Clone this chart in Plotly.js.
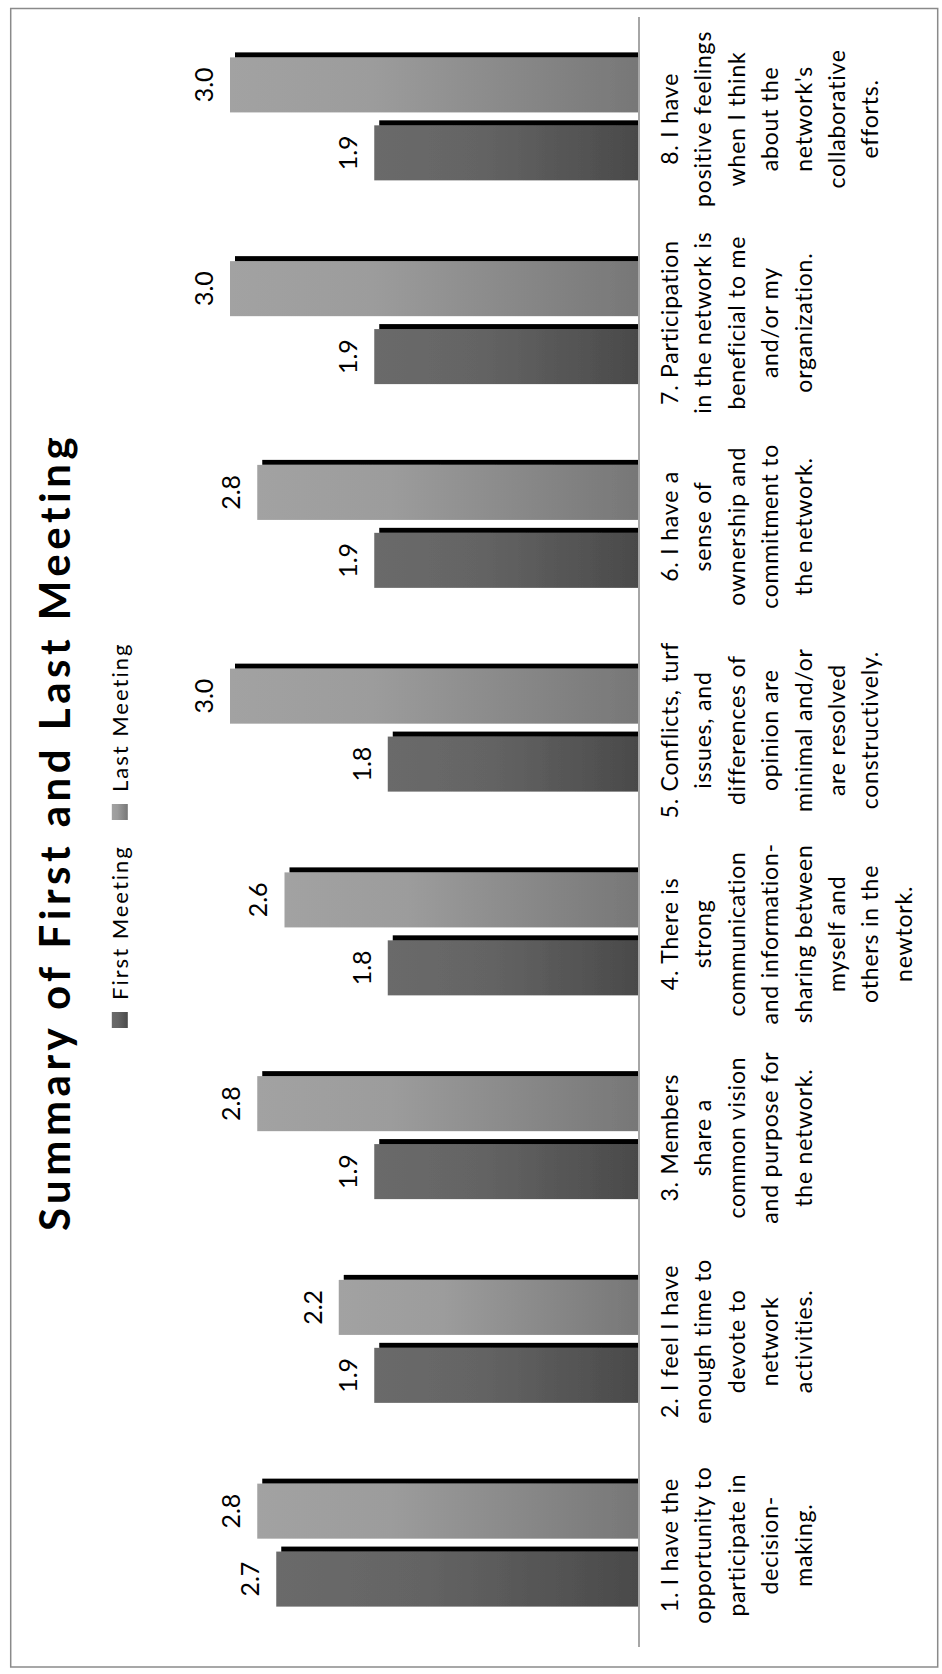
<!DOCTYPE html>
<html>
<head>
<meta charset="utf-8">
<script src="https://cdn.plot.ly/plotly-3.0.1.min.js"></script>
<style>
html,body{margin:0;padding:0;width:942px;height:1674px;overflow:hidden;background:#fff;}
#wrap{position:absolute;left:0;top:0;width:1674px;height:942px;transform-origin:0 0;transform:translate(0px,1674px) rotate(-90deg);}
#chart{width:1674px;height:942px;}
</style>
</head>
<body>
<div id="wrap"><div id="chart"></div></div>
<script>
// ---- data ----
const categories = [
  "1. I have the<br>opportunity to<br>participate in<br>decision-<br>making.",
  "2. I feel I have<br>enough time to<br>devote to<br>network<br>activities.",
  "3. Members<br>share a<br>common vision<br>and purpose for<br>the network.",
  "4. There is<br>strong<br>communication<br>and information-<br>sharing between<br>myself and<br>others in the<br>newtork.",
  "5. Conflicts, turf<br>issues, and<br>differences of<br>opinion are<br>minimal and/or<br>are resolved<br>constructively.",
  "6. I have a<br>sense of<br>ownership and<br>commitment to<br>the network.",
  "7. Participation<br>in the network is<br>beneficial to me<br>and/or my<br>organization.",
  "8. I have<br>positive feelings<br>when I think<br>about the<br>network's<br>collaborative<br>efforts."
];
const firstMeeting = [2.66, 1.94, 1.94, 1.84, 1.84, 1.94, 1.94, 1.94];
const lastMeeting  = [2.80, 2.20, 2.80, 2.60, 3.00, 2.80, 3.00, 3.00];
const seriesNames = ["First Meeting", "Last Meeting"];
const chartTitle = "Summary of First and Last Meeting";

// ---- geometry (unrotated chart, later rotated -90deg by CSS) ----
const W = 1674, H = 942, L = 27, R = 17, T = 162, B = 304;
const plotW = W - L - R, plotH = H - T - B;
const px2paperX = x => (x - L) / plotW;
const px2paperY = y => (H - B - y) / plotH;

const data = [
  {type:'bar', name:seriesNames[0], x:categories, y:firstMeeting,
   marker:{color:'#5a5a5a', line:{width:0}},
   texttemplate:'%{y:.1f}', textposition:'outside', constraintext:'none', cliponaxis:false,
   textfont:{family:'Lato, sans-serif', size:25, color:'#000'}, hoverinfo:'skip'},
  {type:'bar', name:seriesNames[1], x:categories, y:lastMeeting,
   marker:{color:'#8e8e8e', line:{width:0}},
   texttemplate:'%{y:.1f}', textposition:'outside', constraintext:'none', cliponaxis:false,
   textfont:{family:'Lato, sans-serif', size:25, color:'#000'}, hoverinfo:'skip'}
];

const layout = {
  width:W, height:H,
  margin:{l:L, r:R, t:T, b:B, pad:0},
  paper_bgcolor:'#ffffff', plot_bgcolor:'#ffffff',
  font:{family:'Lato, sans-serif', color:'#000'},
  title:{text:'<b>'+chartTitle+'</b>', font:{family:'Lato, sans-serif', size:42, color:'#000'},
         x:0.5, xref:'paper', xanchor:'center', y:1-55/H, yref:'container', yanchor:'middle'},
  barmode:'group', bargap:0.333, bargroupgap:0.19,
  showlegend:true,
  legend:{orientation:'h', x:0.5, xanchor:'center', y:px2paperY(120), yanchor:'middle',
          entrywidth:163, entrywidthmode:'pixels',
          font:{family:'Lato, sans-serif', size:22, color:'#000'}, traceorder:'normal',
          bgcolor:'rgba(0,0,0,0)', borderwidth:0},
  xaxis:{type:'category', showline:true, linecolor:'#a6a6a6', linewidth:1.5, ticks:'',
         tickfont:{family:'Lato, sans-serif', size:23, color:'#000'}, tickangle:0,
         ticklabelstandoff:11, showgrid:false, zeroline:false, fixedrange:true},
  yaxis:{range:[0,3.5], visible:false, showgrid:false, zeroline:false, fixedrange:true},
  shapes:[{type:'rect', xref:'paper', yref:'paper',
           x0:px2paperX(7), x1:px2paperX(1665.5), y0:px2paperY(937.7), y1:px2paperY(10.7),
           line:{color:'#8a8a8a', width:1.5}, fillcolor:'rgba(0,0,0,0)', layer:'below'}]
};

Plotly.newPlot('chart', data, layout, {staticPlot:true, displayModeBar:false}).then(gd => {
  const NS = 'http://www.w3.org/2000/svg';
  const svg = gd.querySelector('svg.main-svg');
  let defs = svg.querySelector('defs');
  if (!defs) { defs = document.createElementNS(NS,'defs'); svg.insertBefore(defs, svg.firstChild); }
  function grad(id, stops) {
    const g = document.createElementNS(NS,'linearGradient');
    g.setAttribute('id', id);
    g.setAttribute('x1','0'); g.setAttribute('y1','0'); g.setAttribute('x2','0'); g.setAttribute('y2','1');
    stops.forEach(([o,c]) => {
      const s = document.createElementNS(NS,'stop');
      s.setAttribute('offset', o); s.setAttribute('stop-color', c);
      g.appendChild(s);
    });
    defs.appendChild(g);
  }
  grad('gFirst', [[0,'#6a6a6a'],[0.4,'#646464'],[1,'#4a4a4a']]);
  grad('gLast',  [[0,'#a2a2a2'],[0.35,'#9c9c9c'],[1,'#777777']]);
  const gx = ['gFirst','gLast'];
  // shadow filter
  const f = document.createElementNS(NS,'filter');
  f.setAttribute('id','barShadow');
  f.setAttribute('x','-30%'); f.setAttribute('y','-30%'); f.setAttribute('width','160%'); f.setAttribute('height','160%');
  f.innerHTML = '<feOffset in="SourceAlpha" dx="5" dy="5" result="o"/><feMerge><feMergeNode in="o"/><feMergeNode in="SourceGraphic"/></feMerge>';
  defs.appendChild(f);

  gd.querySelectorAll('.barlayer .trace').forEach((tr, i) => {
    tr.querySelectorAll('.point path').forEach(p => {
      p.style.fill = 'url(#' + gx[i] + ')';
      p.setAttribute('filter','url(#barShadow)');
    });
    tr.querySelectorAll('text.bartext').forEach(t => {
      t.setAttribute('transform', 'translate(0,-9) ' + (t.getAttribute('transform') || ''));
    });
  });
  gd.querySelectorAll('.legend .traces').forEach((tr, i) => {
    tr.querySelectorAll('.legendpoints path').forEach(p => {
      p.setAttribute('d','M8,8H-8V-8H8Z');
      p.style.fill = 'url(#' + gx[i] + ')';
    });
    tr.querySelectorAll('text.legendtext').forEach(t => { t.style.letterSpacing = '2px'; });
  });
  gd.querySelectorAll('.xtick text').forEach(t => {
    t.style.letterSpacing = '0.8px';
    t.querySelectorAll('tspan.line').forEach((ts, idx) => {
      ts.setAttribute('dy', (idx * 1.45) + 'em');
    });
  });
  const tt = gd.querySelector('.gtitle');
  if (tt) tt.style.letterSpacing = '4.5px';
});
</script>
</body>
</html>
